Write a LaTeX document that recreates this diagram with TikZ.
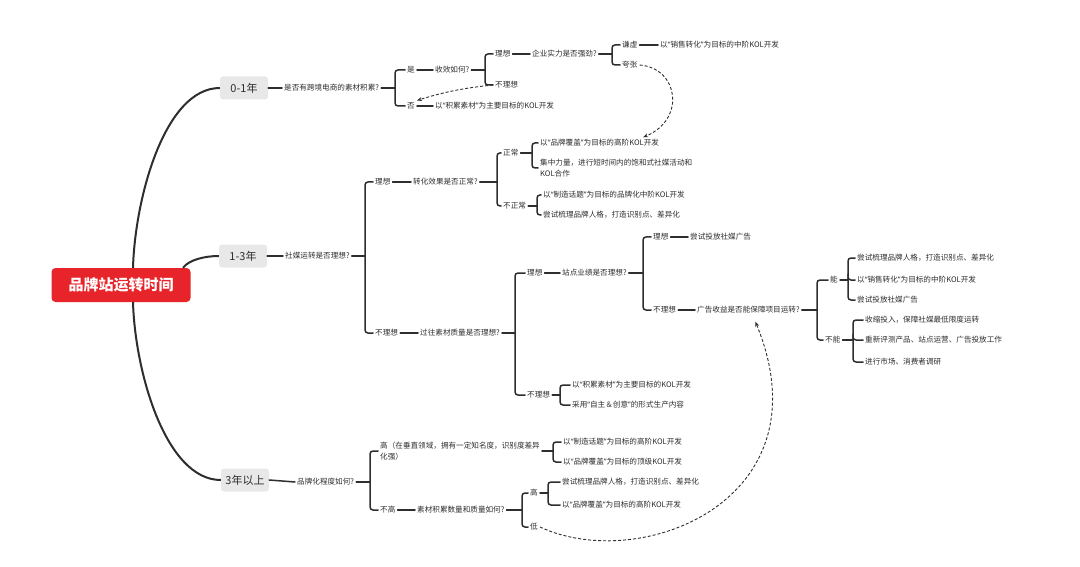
\documentclass[tikz,border=0pt]{standalone}
\usepackage{fontspec}
\setmainfont{Noto Sans CJK SC}
\newfontfamily\latq{Noto Sans}
\newcommand\oq{{\latq “}}
\newcommand\cq{{\latq ”}}
\usetikzlibrary{arrows.meta}
\definecolor{ink}{HTML}{2E2E2E}
\definecolor{boxgray}{HTML}{E8E8E8}
\definecolor{brandred}{HTML}{E8242B}
\tikzset{
  topic/.style={anchor=west, inner sep=2pt, text=ink, align=left, font=\fontsize{7.6}{11.5}\selectfont},
  yearbox/.style={fill=boxgray, rounded corners=3pt, minimum width=48pt, minimum height=23pt, inner sep=2pt, text=ink, font=\fontsize{11}{13}\selectfont},
  rootbox/.style={fill=brandred, rounded corners=4pt, minimum width=139pt, minimum height=34pt, text=white, font=\fontsize{15}{18}\selectfont\bfseries},
  br/.style={draw=ink, line width=1.5pt, line cap=round},
  trunk/.style={draw=ink, line width=2pt},
  jump/.style={draw=ink, line width=0.9pt, dash pattern=on 3pt off 2pt, -{Stealth[length=5pt,width=4pt]}}
}
\newcommand\fork[3]{%
  \coordinate (#1k) at (#2,0);
  \draw[br] (#1.east) -- (#1.east -| #1k);
  \foreach \c in {#3} \draw[br, rounded corners=3pt] (#1.east -| #1k) |- (\c.west);
}
\begin{document}
\begin{tikzpicture}[x=1pt, y=-1pt]
  \fill[white] (0,0) rectangle (1080,567);
  \useasboundingbox (0,0) rectangle (1080,567);
  \node[rootbox] (root) at (121,285) {品牌站运转时间};
  \node[yearbox] (t1) at (244,88) {0-1年};
  \node[yearbox] (t2) at (243,256) {1-3年};
  \node[yearbox] (t3) at (245,480) {3年以上};
  \draw[trunk] ([xshift=12pt]root.north) .. controls +(2,-70) and +(-55,0) .. (t1.west);
  \draw[trunk] ([xshift=62pt]root.north) .. controls +(6,-8) and +(-14,0) .. (t2.west);
  \draw[trunk] ([xshift=12pt]root.south) .. controls +(2,70) and +(-55,0) .. (t3.west);
  % 0-1年
  \node[topic] (a0) at (282,88) {是否有跨境电商的素材积累?};
  \node[topic] (a1) at (405,70) {是};
  \node[topic] (a2) at (405,106) {否};
  \node[topic] (a11) at (433,70) {收效如何?};
  \node[topic] (a111) at (493,54) {理想};
  \node[topic] (a112) at (493,85) {不理想};
  \node[topic] (a1111) at (530,54) {企业实力是否强劲?};
  \node[topic] (a11111) at (620,45) {谦虚};
  \node[topic] (a11112) at (620,65) {夸张};
  \node[topic] (a111111) at (658,45) {以\oq 销售转化\cq 为目标的中阶KOL开发};
  \node[topic] (a21) at (433,106) {以\oq 积累素材\cq 为主要目标的KOL开发};
  \draw[br] (t1.east) -- (a0.west);
  \fork{a0}{395}{a1,a2}
  \draw[br] (a1.east) -- (a11.west);
  \fork{a11}{485}{a111,a112}
  \draw[br] (a111.east) -- (a1111.west);
  \fork{a1111}{612}{a11111,a11112}
  \draw[br] (a11111.east) -- (a111111.west);
  \draw[br] (a2.east) -- (a21.west);
  % 1-3年
  \node[topic] (b0) at (283,256) {社媒运转是否理想?};
  \node[topic] (b1) at (373,182) {理想};
  \node[topic] (b2) at (373,333) {不理想};
  \node[topic] (b11) at (411,182) {转化效果是否正常?};
  \node[topic] (b111) at (501,153) {正常};
  \node[topic] (b112) at (501,206) {不正常};
  \node[topic] (b1111) at (538,143) {以\oq 品牌覆盖\cq 为目标的高阶KOL开发};
  \node[topic] (b1112) at (538,168) {集中力量，进行短时间内的饱和式社媒活动和\\KOL合作};
  \node[topic] (b1121) at (541,195) {以\oq 制造话题\cq 为目标的品牌化中阶KOL开发};
  \node[topic] (b1122) at (541,215) {尝试梳理品牌人格，打造识别点、差异化};
  \node[topic] (b21) at (418,333) {过往素材质量是否理想?};
  \node[topic] (b211) at (525,273) {理想};
  \node[topic] (b212) at (525,395) {不理想};
  \node[topic] (b2111) at (560,273) {站点业绩是否理想?};
  \node[topic] (b21111) at (651,237) {理想};
  \node[topic] (b21112) at (651,310) {不理想};
  \node[topic] (b211111) at (688,237) {尝试投放社媒广告};
  \node[topic] (b211121) at (695,310) {广告收益是否能保障项目运转?};
  \node[topic] (n1) at (828,280) {能};
  \node[topic] (n2) at (823,340) {不能};
  \node[topic] (n11) at (855,258) {尝试梳理品牌人格，打造识别点、差异化};
  \node[topic] (n12) at (855,280) {以\oq 销售转化\cq 为目标的中阶KOL开发};
  \node[topic] (n13) at (855,300) {尝试投放社媒广告};
  \node[topic] (n21) at (863,320) {收缩投入，保障社媒最低限度运转};
  \node[topic] (n22) at (863,340) {重新评测产品、站点运营、广告投放工作};
  \node[topic] (n23) at (863,362) {进行市场、消费者调研};
  \node[topic] (b2121) at (570,385) {以\oq 积累素材\cq 为主要目标的KOL开发};
  \node[topic] (b2122) at (570,405) {采用\oq 自主＆创意\cq 的形式生产内容};
  \draw[br] (t2.east) -- (b0.west);
  \fork{b0}{365}{b1,b2}
  \draw[br] (b1.east) -- (b11.west);
  \fork{b11}{497}{b111,b112}
  \fork{b111}{532}{b1111,b1112}
  \fork{b112}{537}{b1121,b1122}
  \draw[br] (b2.east) -- (b21.west);
  \fork{b21}{515}{b211,b212}
  \draw[br] (b211.east) -- (b2111.west);
  \fork{b2111}{643}{b21111,b21112}
  \draw[br] (b21111.east) -- (b211111.west);
  \draw[br] (b21112.east) -- (b211121.west);
  \fork{b211121}{817}{n1,n2}
  \fork{n1}{848}{n11,n12,n13}
  \fork{n2}{853}{n21,n22,n23}
  \fork{b212}{560}{b2121,b2122}
  % 3年以上
  \node[topic] (c0) at (295,482) {品牌化程度如何?};
  \node[topic] (c1) at (378,451) {高（在垂直领域，拥有一定知名度，识别度差异\\化强）};
  \node[topic] (c2) at (378,510) {不高};
  \node[topic] (c11) at (561,442) {以\oq 制造话题\cq 为目标的高阶KOL开发};
  \node[topic] (c12) at (561,462) {以\oq 品牌覆盖\cq 为目标的顶级KOL开发};
  \node[topic] (c21) at (415,510) {素材积累数量和质量如何?};
  \node[topic] (c211) at (528,493) {高};
  \node[topic] (c212) at (528,527) {低};
  \node[topic] (c2111) at (560,482) {尝试梳理品牌人格，打造识别点、差异化};
  \node[topic] (c2112) at (560,505) {以\oq 品牌覆盖\cq 为目标的高阶KOL开发};
  \draw[br] (t3.east) -- (c0.west);
  \fork{c0}{370}{c1,c2}
  \fork{c1}{553}{c11,c12}
  \draw[br] (c2.east) -- (c21.west);
  \fork{c21}{522}{c211,c212}
  \fork{c211}{548}{c2111,c2112}
  % dashed jumps
  \draw[jump] (a112.west) .. controls +(-30,3) and +(25,-8) .. (a2.north east);
  \draw[jump] (a11112.east) .. controls +(39,3) and +(43,-18) .. ([xshift=-18pt]b1111.north east);
  \draw[jump] (c212.east) .. controls +(101,47) and +(73,178) .. ([shift={(7pt,-6pt)}]b211121.south);
\end{tikzpicture}
\end{document}
